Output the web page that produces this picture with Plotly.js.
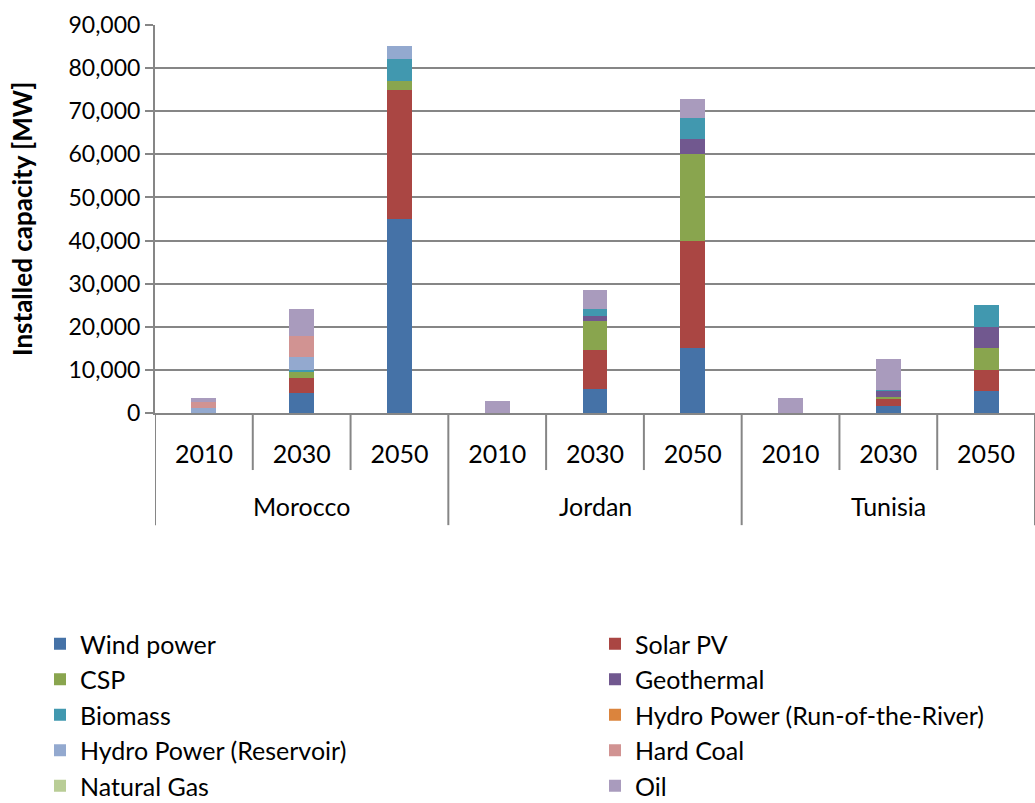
<!DOCTYPE html>
<html><head><meta charset="utf-8">
<script src="https://cdn.plot.ly/plotly-3.0.1.min.js"></script>
<style>body{margin:0;background:#fff}#chart{width:1035px;height:803px}</style>
</head><body><div id="chart"></div>
<script>
const countryNames = ["Morocco","Jordan","Tunisia"];
const yearNames = ["2010","2030","2050"];
const categories = ["Morocco 2010","Morocco 2030","Morocco 2050","Jordan 2010","Jordan 2030","Jordan 2050","Tunisia 2010","Tunisia 2030","Tunisia 2050"];
const tickLabels = ["2010","2030","2050","2010","2030","2050","2010","2030","2050"];

const windPower      = [0, 4700, 45000, 0, 5600, 15000, 0, 1600, 5000];
const solarPV        = [0, 3500, 30000, 0, 9000, 25000, 0, 1650, 5000];
const csp            = [0, 1400, 2000, 0, 6800, 20000, 0, 400, 5000];
const geothermal     = [0, 0, 0, 0, 1100, 3500, 0, 1500, 5000];
const biomass        = [0, 400, 5000, 0, 1700, 5000, 0, 250, 5000];
const hydroRoR       = [0, 0, 0, 0, 0, 0, 0, 0, 0];
const hydroReservoir = [1200, 2900, 3200, 0, 0, 0, 0, 0, 0];
const hardCoal       = [1400, 5000, 0, 0, 0, 0, 0, 0, 0];
const naturalGas     = [0, 0, 0, 0, 0, 0, 0, 0, 0];
const oil            = [900, 6300, 0, 2700, 4300, 4400, 3400, 7200, 0];

const seriesNames = ["Wind power","Solar PV","CSP","Geothermal","Biomass","Hydro Power (Run-of-the-River)","Hydro Power (Reservoir)","Hard Coal","Natural Gas","Oil"];
const seriesValues = [windPower, solarPV, csp, geothermal, biomass, hydroRoR, hydroReservoir, hardCoal, naturalGas, oil];
const colors = ["#4572A7","#AA4643","#89A54E","#71588F","#4198AF","#DB843D","#93A9CF","#D19392","#B9CD96","#A99BBD"];

const traces = seriesNames.map((n,i)=>({
  type:"bar", name:n, x:categories, y:seriesValues[i],
  legend: (i%2===0) ? "legend" : "legend2", legendgroup:"g"+i,
  marker:{color:colors[i], line:{width:0}}, hoverinfo:"name+y"
}));

const groupSize = yearNames.length;
const shapes = [];
for (let b=0; b<=categories.length; b++){
  const xpos = b - 0.5;
  const major = (b % groupSize === 0);
  shapes.push({type:"line", xref:"x", yref:"paper", x0:xpos, x1:xpos, y0:0, y1: major ? -0.289 : -0.147,
    line:{color:"#868686", width:2}});
}
const annotations = countryNames.map((c,g)=>({
  text:c, xref:"x", yref:"paper", x:g*groupSize + (groupSize-1)/2, y:-0.24,
  showarrow:false, yanchor:"middle", font:{size:25}
}));
annotations.push({text:"<b>Installed capacity [MW]</b>", xref:"paper", yref:"paper",
  x:-0.151, y:0.5, xanchor:"center", yanchor:"middle", textangle:-90, showarrow:false, font:{size:26}});

const legendCommon = {orientation:"v", xanchor:"left", yanchor:"top", xref:"container", yref:"container",
  y:1-621/803, font:{size:25}, traceorder:"normal", tracegroupgap:0, bgcolor:"rgba(0,0,0,0)"};

const layout = {
  width:1035, height:803,
  margin:{l:155, r:0, t:25, b:390, autoexpand:false},
  barmode:"stack", bargap:0.745,
  paper_bgcolor:"#fff", plot_bgcolor:"#fff",
  font:{family:"Lato, 'Noto Sans', sans-serif", size:22, color:"#000"},
  xaxis:{type:"category", tickmode:"array", tickvals:categories, ticktext:tickLabels,
    showline:true, linecolor:"#868686", linewidth:2, ticks:"", tickangle:0,
    ticklabelstandoff:18, tickfont:{size:25}, showgrid:false, range:[-0.5,8.5]},
  yaxis:{range:[0,90000], dtick:10000, tickformat:",d", showgrid:true, gridcolor:"#868686", gridwidth:2,
    showline:true, linecolor:"#868686", linewidth:2, ticks:"outside", ticklen:8, tickcolor:"#868686", tickwidth:2,
    zeroline:false, tickfont:{size:23}},
  shapes:shapes, annotations:annotations,
  legend:Object.assign({}, legendCommon, {x:40/1035}),
  legend2:Object.assign({}, legendCommon, {x:595/1035}),
  showlegend:true
};
Plotly.newPlot("chart", traces, layout, {displayModeBar:false});
</script></body></html>
